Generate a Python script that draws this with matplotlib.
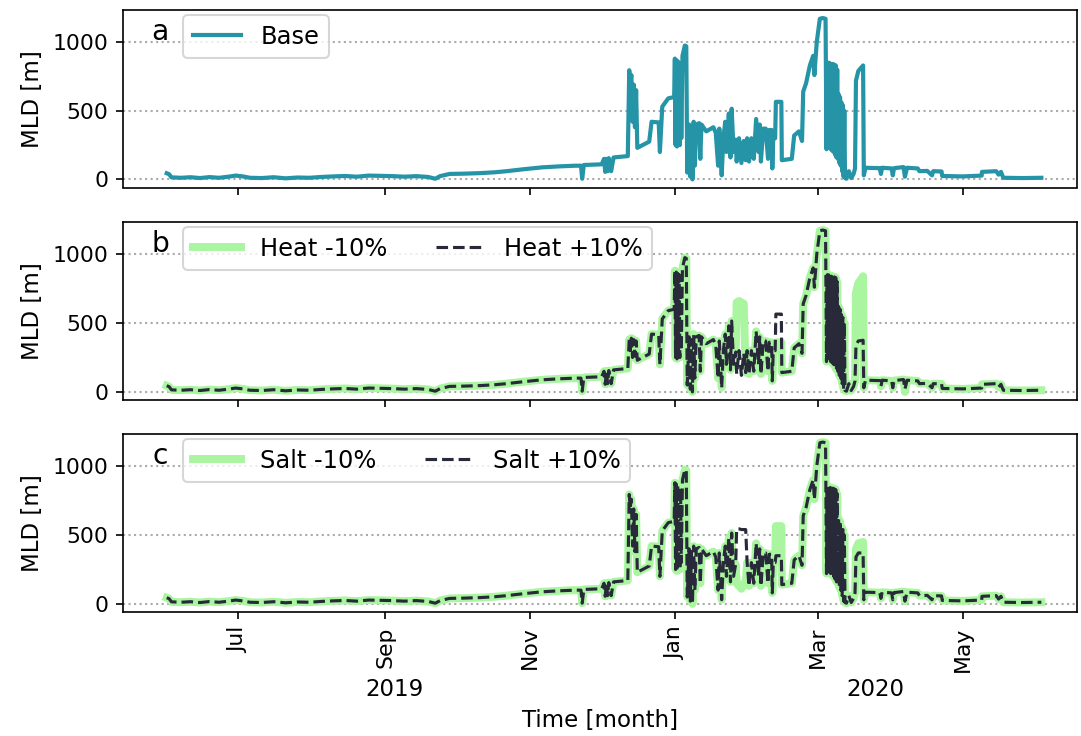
import numpy as np
import matplotlib
matplotlib.use('Agg')
import matplotlib.pyplot as plt
import matplotlib.dates as mdates

# ---------------- data (days since start_date, MLD in m) ----------------
start_date = '2019-06-01'

day = [0, 1, 2, 6, 10, 14, 18, 22, 26, 29,
       32, 35, 40, 45, 50, 55, 60, 65, 70, 75,
       80, 85, 90, 95, 100, 105, 110, 113, 115, 119,
       125, 132, 138, 143, 150, 158, 165, 172, 174.3, 174.8,
       175.5, 183, 184, 184.5, 185, 185.5, 186, 187, 188, 194,
       194.6, 195, 195.5, 196, 196.5, 197, 197.5, 198, 203, 204,
       207, 207.5, 208.5, 211, 213.5, 213.8, 214.1, 214.4, 214.7, 215.0,
       215.3, 215.6, 215.9, 216.2, 216.5, 217, 218, 218.6, 219, 219.8,
       220.3, 220.8, 221.2, 221.7,
       222.2, 222.8, 224, 224.5, 225, 227, 230, 231, 232, 232.5,
       233.5, 234.2, 235, 235.5, 236.5, 237.2, 237.7, 238.5, 239.4, 239.8,
       240.8, 241.8, 242.8, 243.6, 244.2, 245, 246, 247, 248, 249,
       249.5, 250, 251, 252, 253, 253.5, 254.5, 254.8, 255.2, 256,
       256.3, 258.6, 258.8, 263, 264, 266, 267.3, 267.8, 269, 270.6,
       272, 272.5, 273.5, 274.8, 276, 277.2, 277.6, 277.9, 278.2, 278.5,
       278.8, 279.1, 279.4, 279.7, 280.0, 280.3, 280.6, 280.9, 281.2, 281.5,
       281.8, 282.1, 282.4, 282.7, 283.0, 283.3, 283.6, 283.9, 284.2, 284.5,
       284.8, 285.1, 285.4,
       286, 287, 288, 289, 289.6, 290, 291, 293, 293.3, 294,
       300, 300.5, 301, 305, 305.5, 306, 310, 310.6, 311.5, 316,
       316.7, 320, 322, 322.5, 326, 326.3, 335, 342.9, 343, 349,
       350, 351, 352, 360, 368]

mld_base = [45, 38, 15, 12, 16, 10, 17, 12, 20, 28,
            22, 12, 10, 16, 8, 14, 12, 18, 22, 25,
            20, 28, 26, 24, 20, 24, 18, 5, 24, 40,
            42, 46, 52, 60, 74, 88, 95, 100, 100, 5,
            105, 110, 150, 55, 150, 60, 155, 60, 160, 170,
            795, 700, 760, 420, 690, 380, 650, 230, 275, 420,
            415, 200, 530, 590, 600, 880, 250, 870, 240, 860,
            260, 850, 250, 840, 300, 900, 975, 970, 50, 400,
            20, 380, 0, 420,
            100, 400, 410, 150, 400, 350, 380, 340, 100, 370,
            30, 300, 420, 200, 480, 160, 515, 200, 290, 130,
            300, 120, 280, 140, 300, 130, 300, 150, 440, 200,
            400, 130, 370, 370, 150, 360, 360, 80, 300, 300,
            565, 565, 140, 150, 320, 350, 280, 640, 700, 830,
            900, 760, 1000, 1170, 1175, 1170, 220, 850, 240, 850,
            230, 845, 220, 840, 210, 840, 200, 835, 180, 830,
            160, 800, 150, 620, 120, 600, 100, 560, 60, 540,
            20, 500, 10,
            5, 60, 10, 40, 80, 720, 790, 830, 30, 85,
            82, 40, 85, 80, 30, 82, 90, 20, 85, 80,
            60, 62, 30, 60, 58, 25, 22, 28, 55, 60,
            35, 55, 12, 10, 12]

mld_heat_minus = [45, 38, 15, 12, 16, 10, 17, 12, 20, 28,
                  22, 12, 10, 16, 8, 14, 12, 18, 22, 25,
                  20, 28, 26, 24, 20, 24, 18, 5, 24, 40,
                  42, 46, 52, 60, 74, 88, 95, 100, 100, 5,
                  105, 110, 150, 55, 150, 60, 155, 60, 160, 170,
                  380, 300, 390, 250, 380, 260, 370, 230, 275, 420,
                  415, 200, 530, 590, 600, 880, 250, 870, 240, 860,
                  260, 850, 250, 840, 300, 900, 975, 970, 50, 400,
                  20, 380, 0, 420,
                  100, 400, 410, 150, 400, 350, 380, 340, 100, 370,
                  30, 300, 420, 200, 480, 160, 515, 200, 290, 650,
                  660, 650, 640, 140, 300, 130, 300, 150, 440, 200,
                  400, 130, 370, 370, 150, 360, 360, 80, 300, 300,
                  360, 360, 140, 150, 320, 350, 280, 640, 700, 830,
                  900, 760, 1000, 1170, 1175, 1170, 220, 850, 240, 850,
                  230, 845, 220, 840, 210, 840, 200, 835, 180, 830,
                  160, 800, 150, 620, 120, 600, 100, 560, 60, 540,
                  20, 500, 10,
                  5, 60, 10, 40, 80, 720, 790, 840, 30, 85,
                  82, 40, 85, 80, 30, 82, 90, 0, 85, 80,
                  60, 62, 30, 60, 58, 25, 22, 28, 55, 60,
                  35, 55, 12, 10, 12]

mld_heat_plus = [45, 38, 15, 12, 16, 10, 17, 12, 20, 28,
                 22, 12, 10, 16, 8, 14, 12, 18, 22, 25,
                 20, 28, 26, 24, 20, 24, 18, 5, 24, 40,
                 42, 46, 52, 60, 74, 88, 95, 100, 100, 5,
                 105, 110, 150, 55, 150, 60, 155, 60, 160, 170,
                 380, 300, 390, 250, 380, 260, 370, 230, 275, 420,
                 415, 200, 530, 590, 600, 880, 250, 870, 240, 860,
                 260, 850, 250, 840, 300, 900, 975, 970, 50, 400,
                 20, 380, 0, 420,
                 100, 400, 410, 150, 400, 350, 380, 340, 100, 370,
                 30, 300, 420, 200, 480, 160, 515, 200, 290, 130,
                 300, 120, 280, 140, 300, 130, 300, 150, 440, 200,
                 400, 130, 370, 370, 150, 360, 360, 80, 300, 300,
                 565, 565, 140, 150, 320, 350, 280, 640, 700, 830,
                 900, 760, 1000, 1170, 1175, 1170, 220, 850, 240, 850,
                 230, 845, 220, 840, 210, 840, 200, 835, 180, 830,
                 160, 800, 150, 620, 120, 600, 100, 560, 60, 540,
                 20, 500, 10,
                 5, 60, 10, 40, 80, 340, 370, 375, 30, 85,
                 82, 40, 85, 80, 30, 82, 90, 20, 85, 80,
                 60, 62, 30, 60, 58, 25, 22, 28, 55, 60,
                 35, 55, 12, 10, 12]

mld_salt_minus = [45, 38, 15, 12, 16, 10, 17, 12, 20, 28,
                  22, 12, 10, 16, 8, 14, 12, 18, 22, 25,
                  20, 28, 26, 24, 20, 24, 18, 5, 24, 40,
                  42, 46, 52, 60, 74, 88, 95, 100, 100, 5,
                  105, 110, 150, 55, 150, 60, 155, 60, 160, 170,
                  795, 700, 760, 420, 690, 380, 650, 230, 275, 420,
                  415, 200, 530, 590, 600, 880, 250, 870, 240, 860,
                  260, 850, 250, 840, 300, 900, 975, 970, 50, 400,
                  20, 380, 0, 420,
                  100, 400, 410, 150, 400, 350, 380, 340, 100, 370,
                  30, 300, 420, 200, 480, 160, 515, 200, 290, 150,
                  130, 110, 150, 140, 300, 130, 300, 150, 440, 200,
                  400, 130, 370, 370, 150, 360, 360, 80, 300, 300,
                  565, 565, 140, 150, 320, 350, 280, 640, 700, 830,
                  900, 760, 1000, 1170, 1175, 1170, 220, 850, 240, 850,
                  230, 845, 220, 840, 210, 840, 200, 835, 180, 830,
                  160, 800, 150, 620, 120, 600, 100, 560, 60, 540,
                  20, 500, 10,
                  5, 60, 10, 40, 80, 400, 440, 450, 30, 85,
                  82, 40, 85, 80, 30, 82, 90, 20, 85, 80,
                  60, 62, 30, 60, 58, 25, 22, 28, 55, 60,
                  35, 55, 12, 10, 12]

mld_salt_plus = [45, 38, 15, 12, 16, 10, 17, 12, 20, 28,
                 22, 12, 10, 16, 8, 14, 12, 18, 22, 25,
                 20, 28, 26, 24, 20, 24, 18, 5, 24, 40,
                 42, 46, 52, 60, 74, 88, 95, 100, 100, 5,
                 105, 110, 150, 55, 150, 60, 155, 60, 160, 170,
                 795, 700, 760, 420, 690, 380, 650, 230, 275, 420,
                 415, 200, 530, 590, 600, 880, 250, 870, 240, 860,
                 260, 850, 250, 840, 300, 900, 975, 970, 50, 400,
                 20, 380, 0, 420,
                 100, 400, 410, 150, 400, 350, 380, 340, 100, 370,
                 30, 300, 420, 200, 480, 160, 515, 200, 290, 545,
                 545, 540, 540, 540, 300, 130, 300, 150, 440, 200,
                 400, 130, 370, 370, 150, 360, 360, 80, 300, 300,
                 350, 350, 140, 150, 320, 350, 280, 640, 700, 830,
                 900, 760, 1000, 1170, 1175, 1170, 220, 850, 240, 850,
                 230, 845, 220, 840, 210, 840, 200, 835, 180, 830,
                 160, 800, 150, 620, 120, 600, 100, 560, 60, 540,
                 20, 500, 10,
                 5, 60, 10, 40, 80, 340, 370, 370, 30, 85,
                 82, 40, 85, 80, 30, 82, 90, 20, 85, 80,
                 60, 62, 30, 60, 58, 25, 22, 28, 55, 60,
                 35, 55, 12, 10, 12]

panel_letters = ['a', 'b', 'c']
legend_labels_a = ['Base']
legend_labels_b = ['Heat -10%', 'Heat +10%']
legend_labels_c = ['Salt -10%', 'Salt +10%']
year_labels = ['2019', '2020']
year_label_dates = ['2019-09-05', '2020-03-25']

# ---------------- styling / layout ----------------
c_base = '#2494a6'
c_minus = '#aaf5a0'
c_plus = '#282a3a'
xlim_days = (-18.4, 383.0)

t0 = np.datetime64(start_date)
t = t0 + np.round(np.array(day) * 1440).astype('timedelta64[m]')
xlim = [mdates.date2num(t0 + np.timedelta64(int(round(d * 1440)), 'm')) for d in xlim_days]

W, H = 1081, 736
fig = plt.figure(figsize=(W / 150, H / 150), dpi=150)


def rect(l, tp, r, b):
    return [l / W, 1 - b / H, (r - l) / W, (b - tp) / H]


ax_a = fig.add_axes(rect(123, 10, 1077, 187.5))
ax_b = fig.add_axes(rect(123, 222, 1077, 400), sharex=ax_a)
ax_c = fig.add_axes(rect(123, 434, 1077, 612), sharex=ax_a)

ax_a.plot(t, mld_base, color=c_base, lw=2.0, label=legend_labels_a[0])
ax_b.plot(t, mld_heat_minus, color=c_minus, lw=3.8, label=legend_labels_b[0])
ax_b.plot(t, mld_heat_plus, color=c_plus, lw=1.5, ls='--', label=legend_labels_b[1])
ax_c.plot(t, mld_salt_minus, color=c_minus, lw=3.8, label=legend_labels_c[0])
ax_c.plot(t, mld_salt_plus, color=c_plus, lw=1.5, ls='--', label=legend_labels_c[1])

for ax, letter, ncol in zip([ax_a, ax_b, ax_c], panel_letters, [1, 2, 2]):
    ax.set_yticks([0, 500, 1000])
    ax.yaxis.grid(True, ls=':', color='#aaaaaa', lw=1.0)
    ax.set_axisbelow(True)
    ax.set_ylabel('MLD [m]', fontsize=11)
    ax.tick_params(labelsize=10.5)
    ax.text(0.039, 0.876, letter, transform=ax.transAxes, fontsize=13.5,
            ha='center', va='center')
    ax.legend(loc='upper left', bbox_to_anchor=(0.0629, 0.972), borderaxespad=0,
              fontsize=11.6, ncol=ncol)

ax_c.set_xlim(xlim)
ax_c.xaxis.set_major_locator(mdates.MonthLocator(bymonth=[1, 3, 5, 7, 9, 11]))
ax_c.xaxis.set_major_formatter(mdates.DateFormatter('%b'))
for ax in [ax_a, ax_b]:
    ax.tick_params(labelbottom=False)
for lab in ax_c.get_xticklabels():
    lab.set_rotation(90)

for lab, d in zip(year_labels, year_label_dates):
    ax_c.annotate(lab, xy=(mdates.date2num(np.datetime64(d)), 0),
                  xycoords=('data', 'axes fraction'),
                  xytext=(0, -(690 - 612) * 72 / 150), textcoords='offset points',
                  ha='center', va='center', fontsize=11)

fig.text(600 / W, 1 - 720 / H, 'Time [month]', ha='center', va='center', fontsize=11)

fig.savefig('out.png', dpi=150)
